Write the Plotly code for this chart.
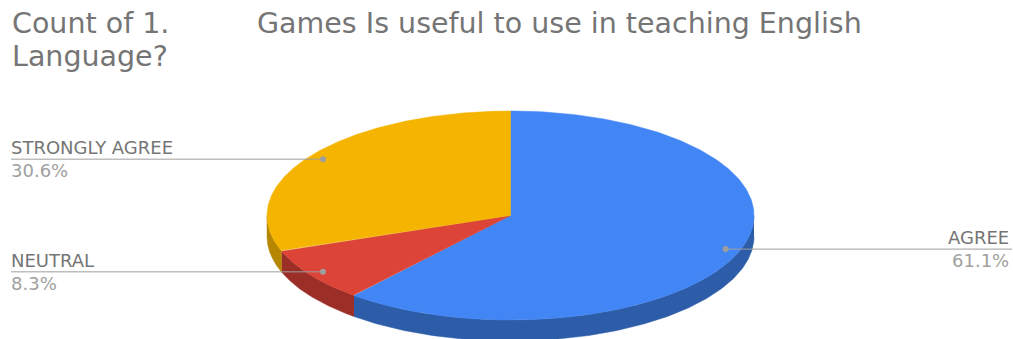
import numpy as np
import plotly.graph_objects as go

# ---- data ----
categories = ["AGREE", "NEUTRAL", "STRONGLY AGREE"]
counts = [22, 3, 11]
colors_top = ["#4285F4", "#DB4437", "#F4B400"]
colors_side = ["#2D5DA8", "#9B2F27", "#B58600"]
title_part1 = "Count of 1."
title_part2 = "Games Is useful to use in teaching English"
title_part3 = "Language?"

W, H = 1013, 339
cx, cy, rx, ry, depth = 510.5, 215.5, 243.5, 104.5, 21
label_f = 0.94

total = sum(counts)
fracs = [c / total for c in counts]

def ept(theta_deg, dy=0.0, f=1.0):
    t = np.radians(theta_deg)
    return cx + rx * f * np.sin(t), cy - ry * f * np.cos(t) + dy

fig = go.Figure()

bounds = []
acc = 0.0
for fr in fracs:
    bounds.append((acc * 360, (acc + fr) * 360))
    acc += fr

# sides (front half only)
for (a, b), col in zip(bounds, colors_side):
    s, e = max(a, 90), min(b, 270)
    if e <= s:
        continue
    th = np.linspace(s, e, 200)
    xt, yt = ept(th)
    xb, yb = ept(th[::-1], dy=depth)
    fig.add_trace(go.Scatter(x=np.concatenate([xt, xb]), y=np.concatenate([yt, yb]),
                             fill="toself", fillcolor=col, mode="lines",
                             line=dict(color=col, width=0.5), hoverinfo="skip",
                             showlegend=False))

# tops
for (a, b), col in zip(bounds, colors_top):
    th = np.linspace(a, b, 300)
    xa, ya = ept(th)
    fig.add_trace(go.Scatter(x=np.concatenate([[cx], xa, [cx]]),
                             y=np.concatenate([[cy], ya, [cy]]),
                             fill="toself", fillcolor=col, mode="lines",
                             line=dict(color=col, width=0.5), hoverinfo="skip",
                             showlegend=False))

name_color = "#757575"
pct_color = "#A0A0A0"
font = "DejaVu Sans"
annotations = []
for (a, b), cat, fr in zip(bounds, categories, fracs):
    mid = (a + b) / 2
    dx, dy_ = ept(mid, f=label_f)
    right = np.sin(np.radians(mid)) > 0
    end_x = W - 1 if right else 11
    fig.add_trace(go.Scatter(x=[dx, end_x], y=[dy_, dy_], mode="lines",
                             line=dict(color="#9E9E9E", width=1),
                             hoverinfo="skip", showlegend=False))
    fig.add_trace(go.Scatter(x=[dx], y=[dy_], mode="markers",
                             marker=dict(color="#9E9E9E", size=6),
                             hoverinfo="skip", showlegend=False))
    tx = W - 2 if right else 9
    xa = "right" if right else "left"
    annotations.append(dict(x=tx, y=dy_ + 1, xref="x", yref="y", text=cat,
                            showarrow=False, xanchor=xa, yanchor="bottom",
                            font=dict(family=font, size=18, color=name_color)))
    annotations.append(dict(x=tx, y=dy_ - 1, xref="x", yref="y",
                            text=f"{fr*100:.1f}%", showarrow=False, xanchor=xa,
                            yanchor="top",
                            font=dict(family=font, size=18, color=pct_color)))

tfont = dict(family=font, size=28.5, color="#757575")
for txt, x, y in [(title_part1, 10, 23), (title_part2, 255, 23), (title_part3, 10, 56.5)]:
    annotations.append(dict(x=x, y=y, xref="x", yref="y", text=txt, showarrow=False,
                            xanchor="left", yanchor="middle", font=tfont))

fig.update_layout(
    width=W, height=H, margin=dict(l=0, r=0, t=0, b=0),
    paper_bgcolor="white", plot_bgcolor="white",
    xaxis=dict(range=[0, W], visible=False, fixedrange=True),
    yaxis=dict(range=[H, 0], visible=False, fixedrange=True),
    annotations=annotations, showlegend=False,
)
fig.write_html("out.html", config={"displayModeBar": False},
               post_script="document.body.style.margin='0';document.body.style.overflow='hidden';")
